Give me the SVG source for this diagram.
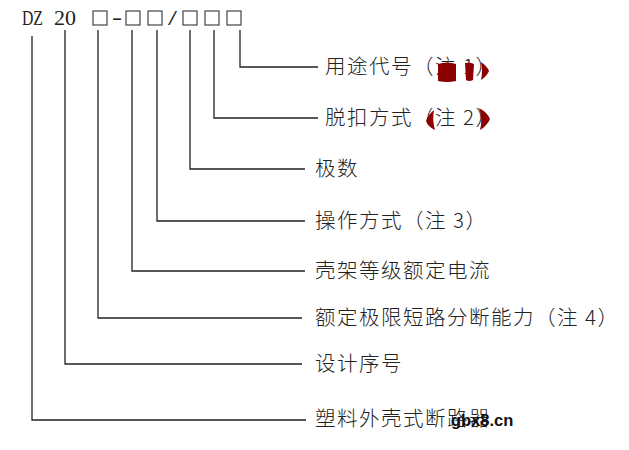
<svg xmlns="http://www.w3.org/2000/svg" width="629" height="450" viewBox="0 0 629 450">
<style>
.lbl{font-family:"Noto Sans CJK SC","Noto Sans",sans-serif;font-size:20.5px;letter-spacing:1.5px;fill:#222;font-weight:300}
.hd{font-family:"Liberation Serif",serif;font-size:20px;fill:#222}
.box{fill:none;stroke:#444;stroke-width:1.2}
.con{fill:none;stroke:#222;stroke-width:1.3}
.blob{fill:#8b0000}
.wm{font-family:"Liberation Sans",Arial,sans-serif;font-size:16.5px;font-weight:bold;fill:#111}
</style>
<rect width="629" height="450" fill="#fff"/>
<g id="header">
<text class="hd" x="22" y="25" textLength="21" lengthAdjust="spacingAndGlyphs">DZ</text>
<text class="hd" x="54" y="25" textLength="22" lengthAdjust="spacingAndGlyphs">20</text>
<rect class="box" x="93" y="11" width="14" height="14"/>
<text class="hd" x="112" y="24" textLength="10" lengthAdjust="spacingAndGlyphs">-</text>
<rect class="box" x="126" y="11" width="14" height="14"/>
<rect class="box" x="148" y="11" width="14" height="14"/>
<text class="hd" x="168" y="25" textLength="9" lengthAdjust="spacingAndGlyphs">/</text>
<rect class="box" x="183" y="11" width="14" height="14"/>
<rect class="box" x="205" y="11" width="14" height="14"/>
<rect class="box" x="227" y="11" width="14" height="14"/>
</g>
<g id="connectors">
<path class="con" d="M240,30 V67 H318"/>
<path class="con" d="M214,30 V118 H318"/>
<path class="con" d="M190,30 V169 H305"/>
<path class="con" d="M157,30 V221 H305"/>
<path class="con" d="M132,30 V271 H305"/>
<path class="con" d="M98,30 V318 H302"/>
<path class="con" d="M65,30 V364 H302"/>
<path class="con" d="M32,36 V420 H306"/>
</g>
<g id="n1"><text class="lbl" x="325" y="74">用途代号（注 1）</text>
<path class="blob" d="M438,64 q9,-3 18,0 l0,17 q-9,2 -18,0 z"/>
<path class="blob" d="M465,63 q5,-1 9,1 l-1,16 q-4,2 -7,0 z"/>
<path class="blob" d="M481,62 q6,4 8,9 q-2,5 -8,9 q2,-9 0,-18 z"/>
</g>
<g id="n2"><text class="lbl" x="325" y="125">脱扣方式（注 2）</text>
<path class="blob" d="M434,110 q-7,6 -8,11 q2,6 9,9 q-3,-10 -1,-20 z"/>
<path class="blob" d="M479,108 q9,5 11,11 q-3,7 -10,11 q3,-11 -1,-22 z"/>
</g>
<g id="n3"><text class="lbl" x="315" y="176">极数</text></g>
<g id="n4"><text class="lbl" x="315" y="228">操作方式（注 3）</text></g>
<g id="n5"><text class="lbl" x="315" y="278">壳架等级额定电流</text></g>
<g id="n6"><text class="lbl" x="315" y="325">额定极限短路分断能力（注 4）</text></g>
<g id="n7"><text class="lbl" x="315" y="371">设计序号</text></g>
<g id="n8"><text class="lbl" x="315" y="426">塑料外壳式断路器</text></g>
<text class="wm" x="451" y="426">gbx8.cn</text>
</svg>
